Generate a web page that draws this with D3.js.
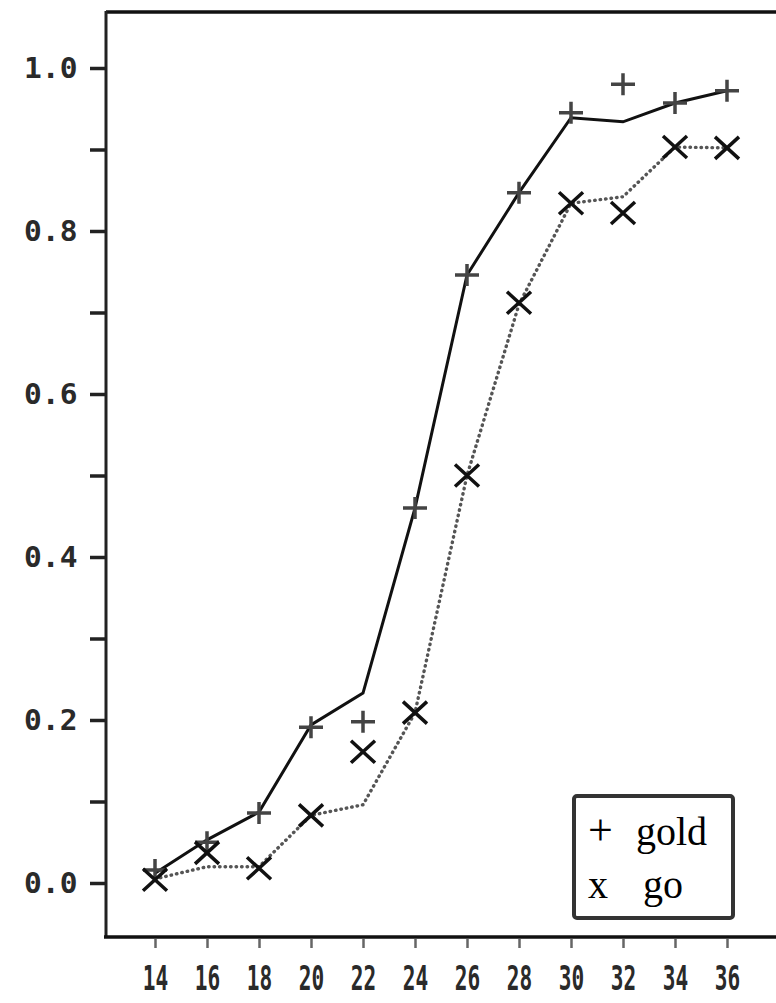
<!DOCTYPE html>
<html>
<head>
<meta charset="utf-8">
<script src="https://cdn.jsdelivr.net/npm/d3@7"></script>
<style>
  body { margin: 0; background: #fff; }
  svg { display: block; }
</style>
</head>
<body>
<script>
// values
var ages = [14, 16, 18, 20, 22, 24, 26, 28, 30, 32, 34, 36];
var goldMarks = [0.016, 0.05, 0.086, 0.191, 0.198, 0.46, 0.746, 0.847, 0.945, 0.98, 0.957, 0.972];
var goldLine  = [0.012, 0.053, 0.087, 0.194, 0.233, 0.46, 0.746, 0.847, 0.939, 0.934, 0.957, 0.972];
var goMarks   = [0.004, 0.037, 0.018, 0.083, 0.161, 0.209, 0.50, 0.712, 0.834, 0.822, 0.903, 0.902];
var goLine    = [0.005, 0.02, 0.02, 0.083, 0.096, 0.209, 0.50, 0.71, 0.834, 0.842, 0.903, 0.902];
var yTicks = [0, 0.1, 0.2, 0.3, 0.4, 0.5, 0.6, 0.7, 0.8, 0.9, 1.0];
var legendItems = [["+", "gold"], ["x", "go"]];

var width = 776, height = 1003;

var svg = d3.select("body")
    .append("svg")
    .attr("width", width)
    .attr("height", height);

var x = d3.scaleLinear().domain([14, 36]).range([155, 727]);
var y = d3.scaleLinear().domain([0, 1]).range([883, 68]);

// frame: top border, left axis, bottom axis
svg.append("line")
    .attr("x1", 106).attr("x2", width)
    .attr("y1", 12).attr("y2", 12)
    .attr("stroke", "#111").attr("stroke-width", 3.5);

svg.append("line")
    .attr("x1", 106).attr("x2", 106)
    .attr("y1", 11).attr("y2", 938)
    .attr("stroke", "#222").attr("stroke-width", 3);

svg.append("line")
    .attr("x1", 104).attr("x2", width)
    .attr("y1", 937).attr("y2", 937)
    .attr("stroke", "#111").attr("stroke-width", 3.5);

// y axis
var yAxis = d3.axisLeft(y)
    .tickValues(yTicks)
    .tickSize(16)
    .tickPadding(12)
    .tickFormat(function (d) {
        return Math.round(d * 10) % 2 === 0 ? d3.format(".1f")(d) : "";
    });

var gy = svg.append("g")
    .attr("transform", "translate(106,0)")
    .call(yAxis);
gy.select(".domain").remove();
gy.selectAll(".tick line")
    .attr("stroke", "#222")
    .attr("stroke-width", 3.5);
gy.selectAll(".tick text")
    .attr("font-family", "DejaVu Sans Mono")
    .attr("font-weight", "bold")
    .attr("font-size", 29)
    .attr("fill", "#2a2a2a")
    .attr("transform", "scale(1.02,1)");

// x axis
var xAxis = d3.axisBottom(x)
    .tickValues(ages)
    .tickSize(9)
    .tickPadding(19)
    .tickFormat(d3.format("d"));

var gx = svg.append("g")
    .attr("transform", "translate(0,939)")
    .call(xAxis);
gx.select(".domain").remove();
gx.selectAll(".tick line")
    .attr("stroke", "#666")
    .attr("stroke-width", 2.5);
gx.selectAll(".tick text")
    .attr("font-family", "DejaVu Sans Mono")
    .attr("font-weight", "bold")
    .attr("font-size", 33)
    .attr("fill", "#2a2a2a")
    .attr("transform", "scale(0.64,1)");

// lines
var line = d3.line()
    .x(function (d, i) { return x(ages[i]); })
    .y(function (d) { return y(d); });

svg.append("path")
    .datum(goLine)
    .attr("d", line)
    .attr("fill", "none")
    .attr("stroke", "#555")
    .attr("stroke-width", 3.4)
    .attr("stroke-linecap", "round")
    .attr("stroke-dasharray", "0.5,5");

svg.append("path")
    .datum(goldLine)
    .attr("d", line)
    .attr("fill", "none")
    .attr("stroke", "#111")
    .attr("stroke-width", 3);

// markers
svg.selectAll(".gold")
    .data(goldMarks)
    .enter()
    .append("path")
    .attr("class", "gold")
    .attr("transform", function (d, i) {
        return "translate(" + x(ages[i]) + "," + y(d) + ")";
    })
    .attr("d", "M-12,0H12M0,-11V11")
    .attr("stroke", "#444")
    .attr("stroke-width", 3.5);

svg.selectAll(".go")
    .data(goMarks)
    .enter()
    .append("path")
    .attr("class", "go")
    .attr("transform", function (d, i) {
        return "translate(" + x(ages[i]) + "," + y(d) + ")";
    })
    .attr("d", "M-12,-11L12,11M-12,11L12,-11")
    .attr("stroke", "#111")
    .attr("stroke-width", 3.5);

// legend
var legend = svg.append("g");

legend.append("rect")
    .attr("x", 574).attr("y", 796)
    .attr("width", 159).attr("height", 122)
    .attr("rx", 3)
    .attr("fill", "#fff")
    .attr("stroke", "#333")
    .attr("stroke-width", 4);

legend.selectAll(".sym")
    .data(legendItems)
    .enter()
    .append("text")
    .attr("x", 588)
    .attr("y", function (d, i) { return 845 + i * 53; })
    .attr("font-family", "Liberation Serif")
    .attr("font-size", function (d, i) { return i === 0 ? 44 : 40; })
    .attr("fill", "#000")
    .text(function (d) { return d[0]; });

legend.selectAll(".lab")
    .data(legendItems)
    .enter()
    .append("text")
    .attr("x", function (d, i) { return i === 0 ? 636 : 643; })
    .attr("y", function (d, i) { return 845 + i * 53; })
    .attr("font-family", "Liberation Serif")
    .attr("font-size", 40)
    .attr("fill", "#000")
    .text(function (d) { return d[1]; });
</script>
</body>
</html>
